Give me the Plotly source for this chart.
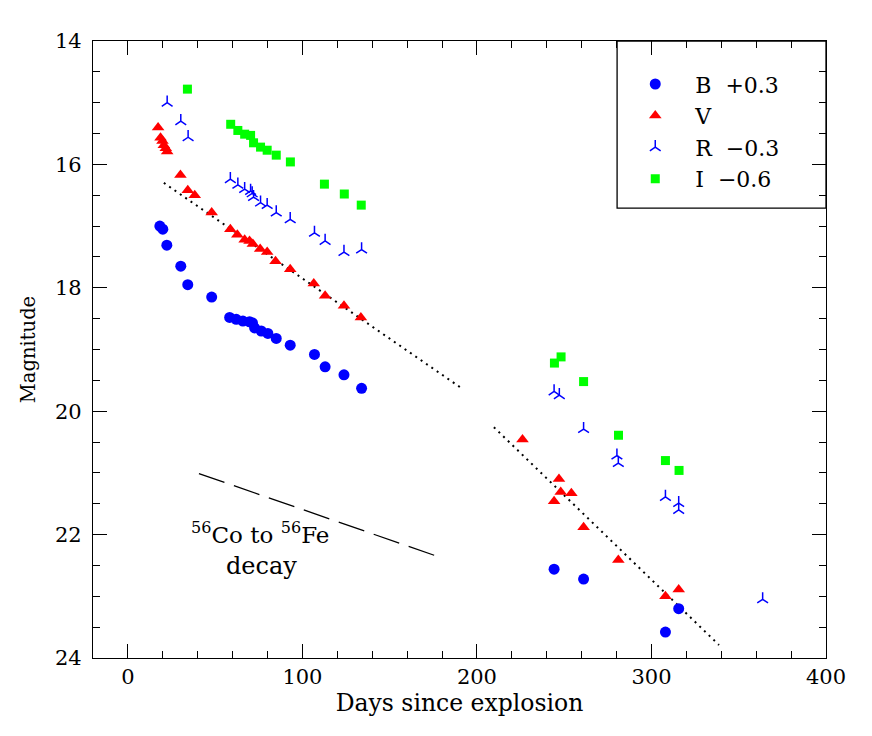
import plotly.graph_objects as go

# ---- data ----
b_day = [18.3, 20.0, 22.3, 30.3, 34.3, 48.0, 58.3, 62.1, 65.9, 69.7, 71.4, 72.6, 76.4, 80.2, 85.0, 93.0,
         106.9, 113.0, 123.8, 133.9, 244.2, 261.1, 315.6, 308.0]
b_mag = [17.00, 17.05, 17.31, 17.65, 17.95, 18.15, 18.48, 18.51, 18.54, 18.55, 18.57, 18.65, 18.70, 18.74,
         18.82, 18.93, 19.08, 19.28, 19.41, 19.63, 22.56, 22.72, 23.20, 23.58]

v_day = [17.3, 18.7, 19.8, 20.6, 21.7, 22.5, 30.1, 34.3, 38.3, 48.0, 58.7, 62.7, 66.9, 69.7, 71.6, 75.8,
         79.8, 84.6, 93.0, 106.5, 113.0, 123.8, 133.5, 226.1, 247.0, 248.0, 254.1, 244.2, 261.1, 281.0,
         308.0, 315.6]
v_mag = [15.40, 15.57, 15.62, 15.69, 15.74, 15.79, 16.17, 16.42, 16.50, 16.78, 17.05, 17.14, 17.22, 17.24,
         17.29, 17.37, 17.42, 17.57, 17.70, 17.93, 18.13, 18.29, 18.48, 20.46, 21.10, 21.31, 21.33, 21.46,
         21.88, 22.41, 23.00, 22.89]

r_day = [22.5, 30.3, 34.5, 58.7, 63.0, 66.9, 70.3, 71.2, 72.0, 76.0, 79.8, 85.0, 93.0, 106.9, 113.0,
         123.8, 133.9, 244.2, 247.2, 261.1, 280.2, 281.0, 308.0, 315.6, 315.6, 363.7]
r_mag = [15.00, 15.30, 15.56, 16.24, 16.33, 16.40, 16.43, 16.47, 16.53, 16.62, 16.66, 16.78, 16.89, 17.11,
         17.24, 17.42, 17.38, 19.68, 19.74, 20.29, 20.72, 20.84, 21.39, 21.49, 21.60, 23.05]

i_day = [34.1, 58.9, 63.0, 66.9, 70.3, 72.0, 76.0, 79.8, 85.0, 93.1, 112.6, 124.0, 133.7, 248.2, 244.4,
         261.1, 281.1, 308.0, 315.8]
i_mag = [14.78, 15.35, 15.45, 15.51, 15.53, 15.65, 15.72, 15.77, 15.85, 15.96, 16.32, 16.48, 16.66, 19.12,
         19.22, 19.52, 20.39, 20.80, 20.96]

fit1_day = [20.6, 190.3]
fit1_mag = [16.30, 19.61]
fit2_day = [209.7, 338.7]
fit2_mag = [20.26, 23.79]
decay_day = [40.7, 176.0]
decay_mag = [21.01, 22.34]

x_ticks = [0, 100, 200, 300, 400]
y_ticks = [14, 16, 18, 20, 22, 24]

FONT = "DejaVu Serif"
NB = "\u00a0"

fig = go.Figure()

fig.add_trace(go.Scatter(x=fit1_day, y=fit1_mag, mode="lines", showlegend=False,
                         line=dict(color="black", width=2, dash="2px,4.5px")))
fig.add_trace(go.Scatter(x=fit2_day, y=fit2_mag, mode="lines", showlegend=False,
                         line=dict(color="black", width=2, dash="2px,4.5px")))
fig.add_trace(go.Scatter(x=decay_day, y=decay_mag, mode="lines", showlegend=False,
                         line=dict(color="black", width=1.3, dash="27px,10px")))

fig.add_trace(go.Scatter(x=b_day, y=b_mag, mode="markers", name="B" + NB * 2 + "+0.3",
                         marker=dict(symbol="circle", size=11, color="#0000ff", line=dict(width=0))))
fig.add_trace(go.Scatter(x=v_day, y=v_mag, mode="markers", name="V",
                         marker=dict(symbol="triangle-up", size=11, color="#ff0000", line=dict(width=0))))
fig.add_trace(go.Scatter(x=r_day, y=r_mag, mode="markers", name="R" + NB * 2 + "\u22120.3",
                         marker=dict(symbol="y-up", size=9, color="#0000ff",
                                     line=dict(width=1.5, color="#0000ff"))))
fig.add_trace(go.Scatter(x=i_day, y=i_mag, mode="markers", name="I" + NB * 2 + "\u22120.6",
                         marker=dict(symbol="square", size=9, color="#00ff00", line=dict(width=0))))

fig.add_annotation(x=75.5, y=21.97, text="<sup>56</sup>Co to <sup>56</sup>Fe", showarrow=False,
                   font=dict(family=FONT, size=23, color="black"))
fig.add_annotation(x=76.7, y=22.51, text="decay", showarrow=False,
                   font=dict(family=FONT, size=24, color="black"))

# legend frame
fig.add_shape(type="rect", xref="paper", yref="paper", x0=0.715, x1=1.0, y0=0.729, y1=1.0,
              line=dict(color="black", width=1.3), fillcolor="rgba(0,0,0,0)")

axis_common = dict(showline=True, linecolor="black", linewidth=1.3, mirror="allticks",
                   ticks="inside", ticklen=14, tickwidth=1.2, tickcolor="black",
                   showgrid=False, zeroline=False,
                   tickfont=dict(family=FONT, size=21, color="black"))

fig.update_layout(
    width=864, height=728,
    margin=dict(l=85, r=46, t=33, b=78),
    paper_bgcolor="white", plot_bgcolor="white",
    xaxis=dict(range=[-20, 400], tickvals=x_ticks, **axis_common,
               minor=dict(ticks="inside", dtick=20, ticklen=7, tickcolor="black", tickwidth=1.2),
               title=dict(text="Days since explosion", font=dict(family=FONT, size=23.5, color="black"),
                          standoff=0)),
    yaxis=dict(range=[24, 14], tickvals=y_ticks, **axis_common, ticklabelstandoff=6,
               minor=dict(ticks="inside", dtick=0.5, ticklen=7, tickcolor="black", tickwidth=1.2),
               title=dict(text="Magnitude", font=dict(family=FONT, size=19.5, color="black"),
                          standoff=14)),
    legend=dict(x=0.7125, y=0.964, xanchor="left", yanchor="top",
                bgcolor="rgba(0,0,0,0)", borderwidth=0,
                font=dict(family=FONT, size=22, color="black"),
                itemwidth=70, tracegroupgap=3),
)

fig.write_html("out.html")
